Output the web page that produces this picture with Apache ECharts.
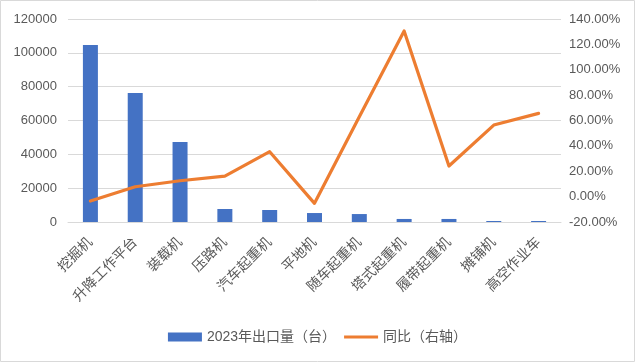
<!DOCTYPE html>
<html><head><meta charset="utf-8">
<script src="https://cdn.jsdelivr.net/npm/echarts@6/dist/echarts.min.js"></script>
<style>html,body{margin:0;padding:0;background:#fff}#c{width:635px;height:362px}</style>
</head><body><div id="c"></div>
<script>
const categories = ['挖掘机','升降工作平台','装载机','压路机','汽车起重机','平地机','随车起重机','塔式起重机','履带起重机','摊铺机','高空作业车'];
const exports2023 = [104700, 76300, 47300, 7700, 7100, 5300, 4700, 1800, 1800, 600, 600];
const yoyPercent = [-3.5, 7.8, 12.5, 16.2, 35.4, -5.3, 63, 130.6, 24.1, 56.4, 65.6];
const leftTicks = {min: 0, max: 120000, interval: 20000};
const rightTicks = {min: -20, max: 140, interval: 20};

const font = '"Liberation Sans", "Noto Sans CJK SC", sans-serif';
const chart = echarts.init(document.getElementById('c'));
chart.setOption({
  animation: false,
  textStyle: {fontFamily: font},
  graphic: [{type: 'rect', shape: {x: 0.5, y: 0.5, width: 634, height: 361}, style: {fill: 'none', stroke: '#d9d9d9', lineWidth: 1}, silent: true}],
  grid: {left: 68, right: 74, top: 19, bottom: 140},
  legend: {
    bottom: 13, left: 'center', itemWidth: 34, itemHeight: 9, itemGap: 8,
    textStyle: {color: '#595959', fontSize: 14, fontFamily: font},
    data: [
      {name: '2023年出口量（台）', icon: 'rect'},
      {name: '同比（右轴）', icon: 'path://M0,0 H34 V3 H0 Z'}
    ]
  },
  xAxis: {
    type: 'category', data: categories,
    axisLine: {lineStyle: {color: '#d9d9d9'}},
    axisTick: {show: false},
    axisLabel: {rotate: 45, interval: 0, color: '#595959', fontSize: 14, margin: 18}
  },
  yAxis: [
    {type: 'value', min: leftTicks.min, max: leftTicks.max, interval: leftTicks.interval,
     axisLabel: {color: '#595959', fontSize: 13, margin: 11, formatter: v => String(v)},
     axisLine: {show: false}, axisTick: {show: false},
     splitLine: {lineStyle: {color: '#d9d9d9'}}},
    {type: 'value', min: rightTicks.min, max: rightTicks.max, interval: rightTicks.interval,
     axisLabel: {color: '#595959', fontSize: 13, margin: 8, formatter: v => v.toFixed(2) + '%'},
     axisLine: {show: false}, axisTick: {show: false}, splitLine: {show: false}}
  ],
  series: [
    {name: '2023年出口量（台）', type: 'bar', data: exports2023, barWidth: 15, itemStyle: {color: '#4472C4'}},
    {name: '同比（右轴）', type: 'line', yAxisIndex: 1, data: yoyPercent, symbol: 'none',
     lineStyle: {color: '#ED7D31', width: 3.2, cap: 'round', join: 'round'}, itemStyle: {color: '#ED7D31'}}
  ]
});
</script></body></html>
